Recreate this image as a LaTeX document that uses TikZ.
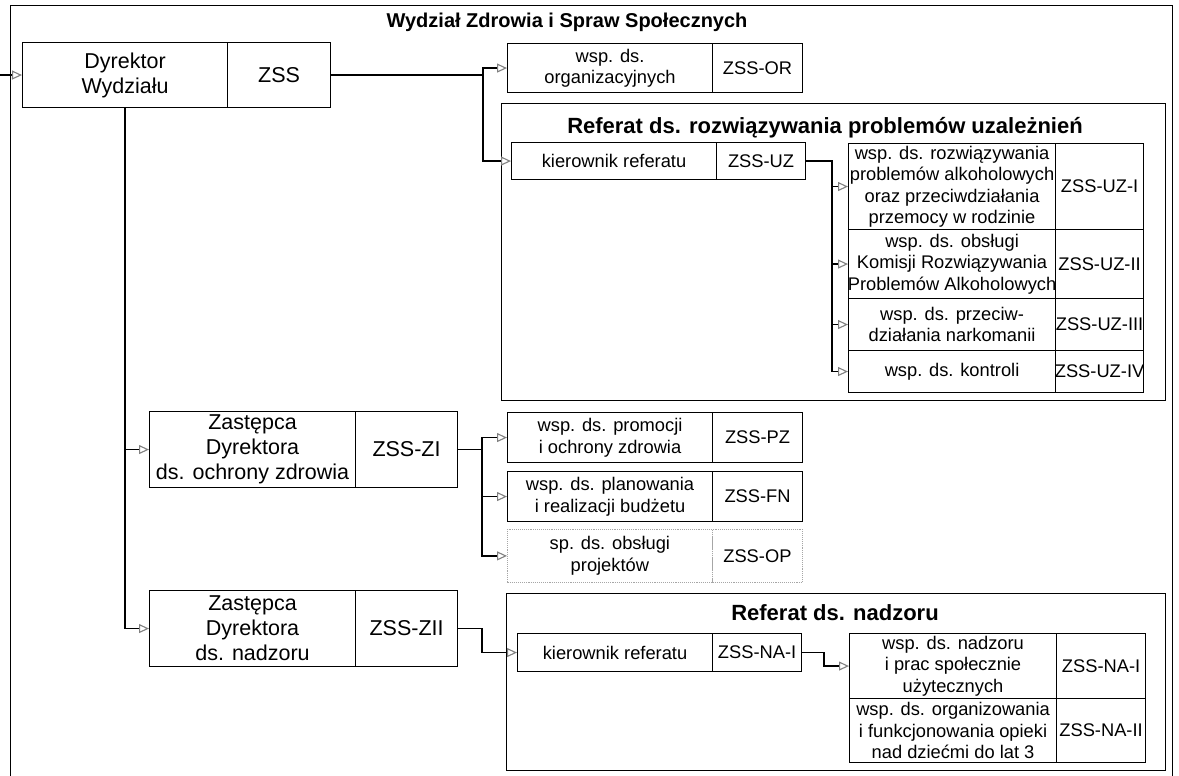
\documentclass[tikz,border=0pt]{standalone}
\usepackage{fontspec}
\setmainfont{Liberation Sans}
\usetikzlibrary{arrows.meta}

\tikzset{
  unit/.style={draw, line width=1.1pt, inner xsep=-4pt, inner ysep=0pt, anchor=north west, align=center,
    font=\fontsize{18.3}{21.5}\selectfont},
  bigunit/.style={unit, font=\fontsize{21.5}{25}\selectfont},
  conn/.style={line width=1.8pt, -{Triangle[open, length=10pt, width=9pt, line width=1.1pt, color=gray]}},
  frame/.style={draw, line width=1pt},
  reftitle/.style={font=\bfseries\fontsize{22}{26}\selectfont}
}

\begin{document}
\begin{tikzpicture}[x=1pt, y=-1pt]
\useasboundingbox (0,0) rectangle (1179,776);
% ramka wydzialu
\draw[line width=1pt] (10,790) -- (10,6) -- (1172,6) -- (1172,790);
\node[font=\bfseries\fontsize{20}{24}\selectfont] (wydzial) at (567,22) {Wydział Zdrowia i Spraw Społecznych};

% ramki referatow
\draw[frame] (501,104) rectangle (1165,400);
\node[reftitle] (uztytul) at (825,128) {Referat ds. rozwiązywania problemów uzależnień};
\draw[frame] (506,593) rectangle (1165,770);
\node[reftitle] (natytul) at (835,613) {Referat ds. nadzoru};

% dyrektor
\node[bigunit, minimum width=205pt, minimum height=65pt] (dyr) at (22,42) {Dyrektor\\Wydziału};
\node[bigunit, minimum width=103pt, minimum height=65pt] (zss) at (227,42) {ZSS};
\coordinate (wejscie) at (0,75);

\node[unit, minimum width=205pt, minimum height=49pt] (org) at (507,43) {wsp. ds.\\organizacyjnych};
\node[unit, minimum width=90pt, minimum height=49pt] (zssor) at (712,43) {ZSS-OR};

% referat uzaleznien
\node[unit, minimum width=205pt, minimum height=37pt] (uzkier) at (511,142) {kierownik referatu};
\node[unit, minimum width=89pt, minimum height=37pt] (zssuz) at (716,142) {ZSS-UZ};
\node[unit, minimum width=207pt, minimum height=86pt] (uz1) at (848,143) {wsp. ds. rozwiązywania\\problemów alkoholowych\\oraz przeciwdziałania\\przemocy w rodzinie};
\node[unit, minimum width=88pt, minimum height=86pt] (zssuz1) at (1055,143) {ZSS-UZ-I};
\node[unit, minimum width=207pt, minimum height=69pt] (uz2) at (848,229) {wsp. ds. obsługi\\Komisji Rozwiązywania\\Problemów Alkoholowych};
\node[unit, minimum width=88pt, minimum height=69pt] (zssuz2) at (1055,229) {ZSS-UZ-II};
\node[unit, minimum width=207pt, minimum height=52pt] (uz3) at (848,298) {wsp. ds. przeciw-\\działania narkomanii};
\node[unit, minimum width=88pt, minimum height=52pt] (zssuz3) at (1055,298) {ZSS-UZ-III};
\node[unit, minimum width=207pt, minimum height=42pt] (uz4) at (848,350) {wsp. ds. kontroli};
\node[unit, minimum width=88pt, minimum height=42pt] (zssuz4) at (1055,350) {ZSS-UZ-IV};

% zastepca I
\node[bigunit, minimum width=206pt, minimum height=76pt] (zi) at (149,411) {Zastępca\\Dyrektora\\ds. ochrony zdrowia};
\node[bigunit, minimum width=102pt, minimum height=76pt] (zsszi) at (355,411) {ZSS-ZI};
\node[unit, minimum width=205pt, minimum height=50pt] (pz) at (507,412) {wsp. ds. promocji\\i ochrony zdrowia};
\node[unit, minimum width=90pt, minimum height=50pt] (zsspz) at (712,412) {ZSS-PZ};
\node[unit, minimum width=205pt, minimum height=50pt] (fn) at (507,471) {wsp. ds. planowania\\i realizacji budżetu};
\node[unit, minimum width=90pt, minimum height=50pt] (zssfn) at (712,471) {ZSS-FN};
\node[unit, draw=gray!70, densely dotted, line width=0.8pt, minimum width=205pt, minimum height=53pt] (op) at (507,529) {sp. ds. obsługi\\projektów};
\node[unit, draw=gray!70, densely dotted, line width=0.8pt, minimum width=90pt, minimum height=53pt] (zssop) at (712,529) {ZSS-OP};

% zastepca II
\node[bigunit, minimum width=206pt, minimum height=76pt] (zii) at (149,590) {Zastępca\\Dyrektora\\ds. nadzoru};
\node[bigunit, minimum width=102pt, minimum height=76pt] (zsszii) at (355,590) {ZSS-ZII};

% referat nadzoru
\node[unit, minimum width=195pt, minimum height=38pt] (nakier) at (517,633) {kierownik referatu};
\node[unit, minimum width=89pt, minimum height=38pt] (zssnak) at (712,633) {ZSS-NA-I};
\node[unit, minimum width=207pt, minimum height=65pt] (na1) at (849,633) {wsp. ds. nadzoru\\i prac społecznie\\użytecznych};
\node[unit, minimum width=89pt, minimum height=65pt] (zssna1) at (1056,633) {ZSS-NA-I};
\node[unit, minimum width=207pt, minimum height=64pt] (na2) at (849,698) {wsp. ds. organizowania\\i funkcjonowania opieki\\nad dziećmi do lat 3};
\node[unit, minimum width=89pt, minimum height=64pt] (zssna2) at (1056,698) {ZSS-NA-II};

% szyny pionowe
\coordinate (szynaA) at (483,0);
\coordinate (szynaC) at (482,0);
\coordinate (szynaD) at (832,0);
\coordinate (szynaE) at (824,0);

% polaczenia
\draw[conn] (wejscie) -- (dyr.west);
\draw[conn] (zss.east) -- (zss.east -| szynaA) |- (org.west);
\draw[conn] (zss.east -| szynaA) |- (uzkier.west);
\draw[conn] (zssuz.east) -- (zssuz.east -| szynaD) |- (uz1.west);
\draw[conn] (zssuz.east -| szynaD) |- (uz2.west);
\draw[conn] (zssuz.east -| szynaD) |- (uz3.west);
\draw[conn] (zssuz.east -| szynaD) |- (uz4.west);
\draw[conn] (dyr.south) |- (zi.west);
\draw[conn] (dyr.south) |- (zii.west);
\draw[conn] (zsszi.east) -- (zsszi.east -| szynaC) |- (pz.west);
\draw[conn] (zsszi.east -| szynaC) |- (fn.west);
\draw[conn] (zsszi.east -| szynaC) |- (op.west);
\draw[conn] (zsszii.east) -- (zsszii.east -| szynaC) |- (nakier.west);
\draw[conn] (zssnak.east) -- (zssnak.east -| szynaE) |- (na1.west);
\end{tikzpicture}
\end{document}
